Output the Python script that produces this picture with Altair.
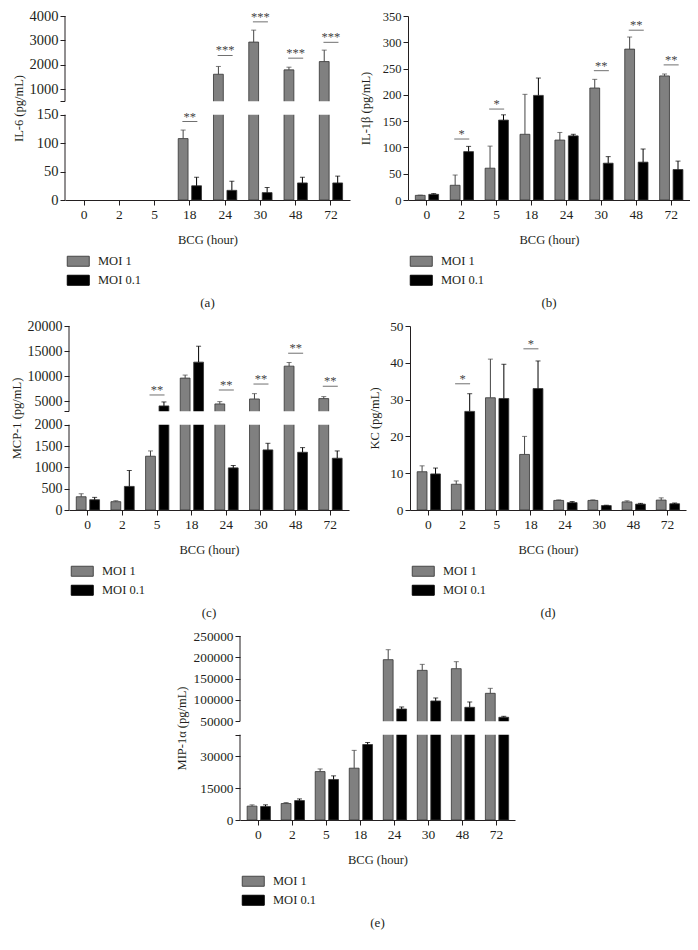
import altair as alt
import pandas as pd

hours = ["0", "2", "5", "18", "24", "30", "48", "72"]
groups = ["MOI 1", "MOI 0.1"]

# (a) IL-6
il6_moi1 = [None, None, None, 108, 1610, 2930, 1790, 2130]
il6_moi1_sd = [None, None, None, 15, 320, 490, 110, 470]
il6_moi01 = [None, None, None, 25, 17, 13, 30, 30]
il6_moi01_sd = [None, None, None, 15, 16, 9, 10, 12]
il6_sig_hours = ["18", "24", "30", "48", "72"]
il6_sig_y = [138, 2380, 3760, 2270, 2920]
il6_sig_txt = ["**", "***", "***", "***", "***"]

# (b) IL-1beta
il1b_moi1 = [8.8, 28, 60.5, 125, 114, 213, 287, 236]
il1b_moi1_sd = [0.5, 19.5, 42, 76, 14.5, 16.5, 23, 3.5]
il1b_moi01 = [10.7, 92, 152, 199, 122, 70, 72, 58]
il1b_moi01_sd = [1.5, 10, 10, 33, 3, 12.5, 25, 16]
il1b_sig_hours = ["2", "5", "30", "48", "72"]
il1b_sig_y = [116, 173, 246, 323, 257]
il1b_sig_txt = ["*", "*", "**", "**", "**"]

# (c) MCP-1
mcp_moi1 = [311, 195, 1261, 9620, 4470, 5460, 12000, 5530]
mcp_moi1_sd = [70, 23, 124, 600, 460, 1060, 730, 400]
mcp_moi01 = [241, 553, 4075, 12800, 988, 1409, 1354, 1214]
mcp_moi01_sd = [55, 373, 790, 3170, 55, 155, 109, 171]
mcp_sig_hours = ["5", "24", "30", "48", "72"]
mcp_sig_y = [6255, 7246, 8435, 14577, 7972]
mcp_sig_txt = ["**", "**", "**", "**", "**"]

# (d) KC
kc_moi1 = [10.4, 7.0, 30.5, 15.1, 2.6, 2.6, 2.2, 2.7]
kc_moi1_sd = [1.6, 0.9, 10.5, 4.9, 0.15, 0.15, 0.3, 0.6]
kc_moi01 = [9.8, 26.8, 30.3, 33.0, 2.0, 1.2, 1.6, 1.7]
kc_moi01_sd = [1.6, 4.8, 9.3, 7.5, 0.3, 0.1, 0.2, 0.2]
kc_sig_hours = ["2", "18"]
kc_sig_y = [34.3, 43.8]
kc_sig_txt = ["*", "*"]

# (e) MIP-1alpha
mip_moi1 = [6500, 7730, 22700, 24300, 194500, 169500, 173400, 115600]
mip_moi1_sd = [600, 460, 1240, 8350, 23400, 14000, 16400, 11700]
mip_moi01 = [6340, 9120, 19000, 35400, 78900, 97700, 82800, 59400]
mip_moi01_sd = [770, 770, 1700, 930, 4700, 7000, 12500, 2300]

FONT = "Liberation Serif"
TXT = "#231f20"
H = 184
BROKEN_RANGE = [H, 98.7, 85.3, 0]
RECT_PATH = "M-2.2,-1H2.2V1H-2.2Z"


def panel(ytitle, moi1, sd1, moi01, sd01, sig_h, sig_y, sig_t, W, domain,
          yvals, hidden=None, segs=None, caption="(a)", ylab=13.3, ytp=6):
    rows = []
    for g, vals, sds in (("MOI 1", moi1, sd1), ("MOI 0.1", moi01, sd01)):
        for h, v, e in zip(hours, vals, sds):
            if v is not None:
                rows.append(dict(hour=h, group=g, value=v, top=v + e))
    df = pd.DataFrame(rows)

    if segs is not None:
        yscale = alt.Scale(domain=domain, range=BROKEN_RANGE, nice=False, zero=False)
    else:
        yscale = alt.Scale(domain=domain, nice=False, zero=True)

    label_expr = "datum.label" if hidden is None else f"datum.value == {hidden} ? '' : datum.label"
    yaxis = alt.Axis(values=yvals, format="d", labelExpr=label_expr, title=ytitle,
                     domain=segs is None, tickSize=5, labelPadding=2,
                     labelFontSize=ylab, titlePadding=ytp, grid=False)
    xaxis = alt.Axis(title="BCG (hour)", labelAngle=0, tickSize=5, labelPadding=2,
                     labelFontSize=13.5, titlePadding=13, grid=False)
    xscale = alt.Scale(domain=hours, paddingInner=0.34, paddingOuter=0.21)
    xoff = alt.XOffset("group:N", sort=groups,
                       scale=alt.Scale(domain=groups, paddingInner=0.27))
    x = alt.X("hour:N", sort=hours, scale=xscale, axis=xaxis)

    def Y(field):
        return alt.Y(field, scale=yscale, axis=yaxis)

    legend = alt.Legend(orient="none", legendX=7, legendY=H + 55, title=None,
                        direction="vertical", symbolType=RECT_PATH, symbolSize=100,
                        symbolStrokeColor="#333", symbolStrokeWidth=1,
                        symbolOpacity=1, labelOffset=13.5, rowPadding=4, padding=0,
                        labelFontSize=12.5, labelFont=FONT, labelColor=TXT)

    bars = alt.Chart(df).mark_bar(stroke="#333", strokeWidth=0.8).encode(
        x=x, xOffset=xoff,
        y=Y("value:Q"),
        color=alt.Color("group:N", sort=groups,
                        scale=alt.Scale(domain=groups, range=["#808080", "#000000"]),
                        legend=legend),
    )
    layers = [bars]
    if segs is not None:
        band = alt.Chart(pd.DataFrame(dict(value=[segs[0][1]], y1=[segs[1][0]]))).mark_rect(
            color="white").encode(
            x=alt.value(0), x2=alt.value(W),
            y=Y("value:Q"), y2="y1:Q")
        layers.append(band)
    err = alt.Chart(df).mark_rule(strokeWidth=1).encode(
        x=x, xOffset=xoff,
        y=Y("value:Q"), y2="top:Q",
        stroke=alt.Stroke("group:N", sort=groups,
                          scale=alt.Scale(domain=groups, range=["#454545", "#000000"]),
                          legend=None))
    caps = alt.Chart(df).mark_tick(size=5, thickness=1).encode(
        x=x, xOffset=xoff,
        y=Y("top:Q"),
        fill=alt.Fill("group:N", sort=groups,
                      scale=alt.Scale(domain=groups, range=["#454545", "#000000"]),
                      legend=None))
    layers += [err, caps]
    if sig_h:
        sdf = pd.DataFrame(dict(hour=sig_h, value=sig_y, txt=sig_t))
        sline = alt.Chart(sdf).mark_tick(size=15, thickness=1, color="#333").encode(
            x=x, y=Y("value:Q"))
        stxt = alt.Chart(sdf).mark_text(fontSize=12.5, dy=-1, baseline="alphabetic",
                                        color="#444", font=FONT).encode(
            x=x, y=Y("value:Q"), text="txt:N")
        layers += [sline, stxt]
    if segs is not None:
        sdf2 = pd.DataFrame(dict(value=[s[0] for s in segs], y1=[s[1] for s in segs]))
        aline = alt.Chart(sdf2).mark_rule(color=TXT, strokeWidth=1).encode(
            x=alt.value(0), y=Y("value:Q"), y2="y1:Q")
        layers.append(aline)
    cap = alt.Chart(pd.DataFrame(dict(t=[caption]))).mark_text(
        fontSize=13, font=FONT, color=TXT).encode(
        x=alt.value(W / 2), y=alt.value(H + 103), text="t:N")
    layers.append(cap)
    return alt.layer(*layers).properties(width=W, height=H)


pa = panel("IL-6 (pg/mL)", il6_moi1, il6_moi1_sd, il6_moi01, il6_moi01_sd,
           il6_sig_hours, il6_sig_y, il6_sig_txt, 285, [0, 150, 500, 4000],
           [0, 50, 100, 150, 500, 1000, 2000, 3000, 4000], hidden=500,
           segs=[(0, 150), (500, 4000)], caption="(a)", ylab=14.5, ytp=4)
pb = panel("IL-1β (pg/mL)", il1b_moi1, il1b_moi1_sd, il1b_moi01, il1b_moi01_sd,
           il1b_sig_hours, il1b_sig_y, il1b_sig_txt, 282, [0, 350],
           [0, 50, 100, 150, 200, 250, 300, 350], caption="(b)", ylab=12.5, ytp=10)
pc = panel("MCP-1 (pg/mL)", mcp_moi1, mcp_moi1_sd, mcp_moi01, mcp_moi01_sd,
           mcp_sig_hours, mcp_sig_y, mcp_sig_txt, 280, [0, 2000, 3000, 20000],
           [0, 500, 1000, 1500, 2000, 3000, 5000, 10000, 15000, 20000], hidden=3000,
           segs=[(0, 2000), (3000, 20000)], caption="(c)", ylab=14, ytp=4)
pd_ = panel("KC (pg/mL)", kc_moi1, kc_moi1_sd, kc_moi01, kc_moi01_sd,
            kc_sig_hours, kc_sig_y, kc_sig_txt, 276, [0, 50],
            [0, 10, 20, 30, 40, 50], caption="(d)", ylab=13.3, ytp=8)
pe = panel("MIP-1α (pg/mL)", mip_moi1, mip_moi1_sd, mip_moi01, mip_moi01_sd,
           [], [], [], 275, [0, 40000, 50000, 250000],
           [0, 15000, 30000, 40000, 50000, 100000, 150000, 200000, 250000], hidden=40000,
           segs=[(0, 40000), (50000, 250000)], caption="(e)", ylab=13.3, ytp=5)


def indep(c):
    return c.resolve_scale(color="independent", stroke="independent",
                           fill="independent", x="independent",
                           y="independent").resolve_legend(color="independent")


row1 = indep(alt.hconcat(pa, pb, spacing=9))
row2 = indep(alt.hconcat(pc, pd_, spacing=19))
chart = indep(alt.vconcat(row1, row2, pe, spacing=9, center=True)).properties(
    padding={"left": 2, "top": 0, "right": 0, "bottom": 0}
).configure_view(stroke=None).configure_axis(
    labelFont=FONT, titleFont=FONT, labelColor=TXT, titleColor=TXT,
    domainColor=TXT, tickColor=TXT, titleFontSize=12.5,
    titleFontWeight="normal", grid=False
).configure_legend(labelFont=FONT).configure_text(font=FONT)

chart.save("out.html", embed_options={"renderer": "svg", "actions": False})
